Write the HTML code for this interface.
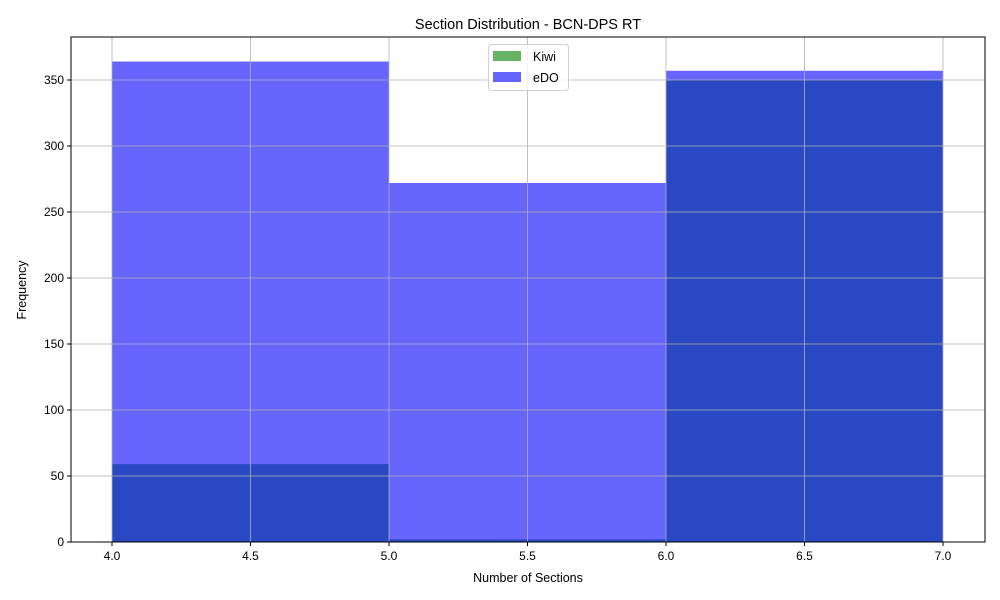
<!DOCTYPE html>
<html><head><meta charset="utf-8"><style>
body{margin:0;background:#fff}
svg{display:block;font-family:"Liberation Sans","DejaVu Sans",sans-serif}
</style></head><body>
<svg id="chart" width="1000" height="600" viewBox="0 0 1000 600"></svg>
<script>
const binEdges = [4, 5, 6, 7];
const kiwiCounts = [59, 2, 350];
const edoCounts = [364, 272, 357];
const xTicks = [4.0, 4.5, 5.0, 5.5, 6.0, 6.5, 7.0];
const xTickLabels = ["4.0","4.5","5.0","5.5","6.0","6.5","7.0"];
const yTicks = [0, 50, 100, 150, 200, 250, 300, 350];

const L=71,R=985,T=37,B=542;
const xs = v => 112 + (v-4)*277;
const ys = v => B - v*1.32;
const NS="http://www.w3.org/2000/svg";
const svg=document.getElementById('chart');
function mk(tag,attrs,parent){const e=document.createElementNS(NS,tag);for(const k in attrs)e.setAttribute(k,attrs[k]);(parent||svg).appendChild(e);return e;}

const bars=mk('g',{});


kiwiCounts.forEach((c,i)=>{
  const r=mk('rect',{x:xs(binEdges[i]),y:ys(c),width:xs(binEdges[i+1])-xs(binEdges[i]),height:B-ys(c),fill:'#008000','fill-opacity':0.6},bars);
  
  
});
edoCounts.forEach((c,i)=>{
  const r=mk('rect',{x:xs(binEdges[i]),y:ys(c),width:xs(binEdges[i+1])-xs(binEdges[i]),height:B-ys(c),fill:'#0000ff','fill-opacity':0.6},bars);
  
  
});

const grid=mk('g',{stroke:'#b0b0b0','stroke-width':0.8});


xTicks.forEach(v=>mk('line',{x1:xs(v),x2:xs(v),y1:T,y2:B},grid));
yTicks.forEach(v=>mk('line',{x1:L,x2:R,y1:ys(v),y2:ys(v)},grid));

const ax=mk('rect',{x:L,y:T,width:R-L,height:B-T,fill:'none',stroke:'#000','stroke-width':1});



const xt=mk('g',{'font-size':12,'text-anchor':'middle'});


xTicks.forEach((v,i)=>{
  mk('line',{x1:xs(v),x2:xs(v),y1:B,y2:B+4,stroke:'#000'},xt);
  const t=mk('text',{x:xs(v),y:B+18},xt);t.textContent=xTickLabels[i];
});
const yt=mk('g',{'font-size':12,'text-anchor':'end'});


yTicks.forEach(v=>{
  mk('line',{x1:L-4,x2:L,y1:ys(v),y2:ys(v),stroke:'#000'},yt);
  const t=mk('text',{x:L-7,y:ys(v)+4},yt);t.textContent=v;
});
</script>
<svg style="position:absolute;left:0;top:0" width="1000" height="600">
<text x="528" y="29" font-size="14.5" text-anchor="middle" font-family="Liberation Sans, sans-serif">Section Distribution - BCN-DPS RT</text>
<text x="528" y="582" font-size="12.5" text-anchor="middle" font-family="Liberation Sans, sans-serif">Number of Sections</text>
<text transform="translate(26,290) rotate(-90)" font-size="12.5" text-anchor="middle" font-family="Liberation Sans, sans-serif">Frequency</text>
<g>
<rect x="488.5" y="44.5" width="80" height="46" rx="3" fill="#fff" fill-opacity="0.8" stroke="#d0d0d0"/>
<rect x="493" y="51" width="28" height="10" fill="#008000" fill-opacity="0.6"/>
<text x="533" y="61" font-size="12.5" font-family="Liberation Sans, sans-serif">Kiwi</text>
<rect x="493" y="72" width="28" height="10" fill="#0000ff" fill-opacity="0.6"/>
<text x="533" y="82" font-size="12.5" font-family="Liberation Sans, sans-serif">eDO</text>
</g>
</svg>
</body></html>
